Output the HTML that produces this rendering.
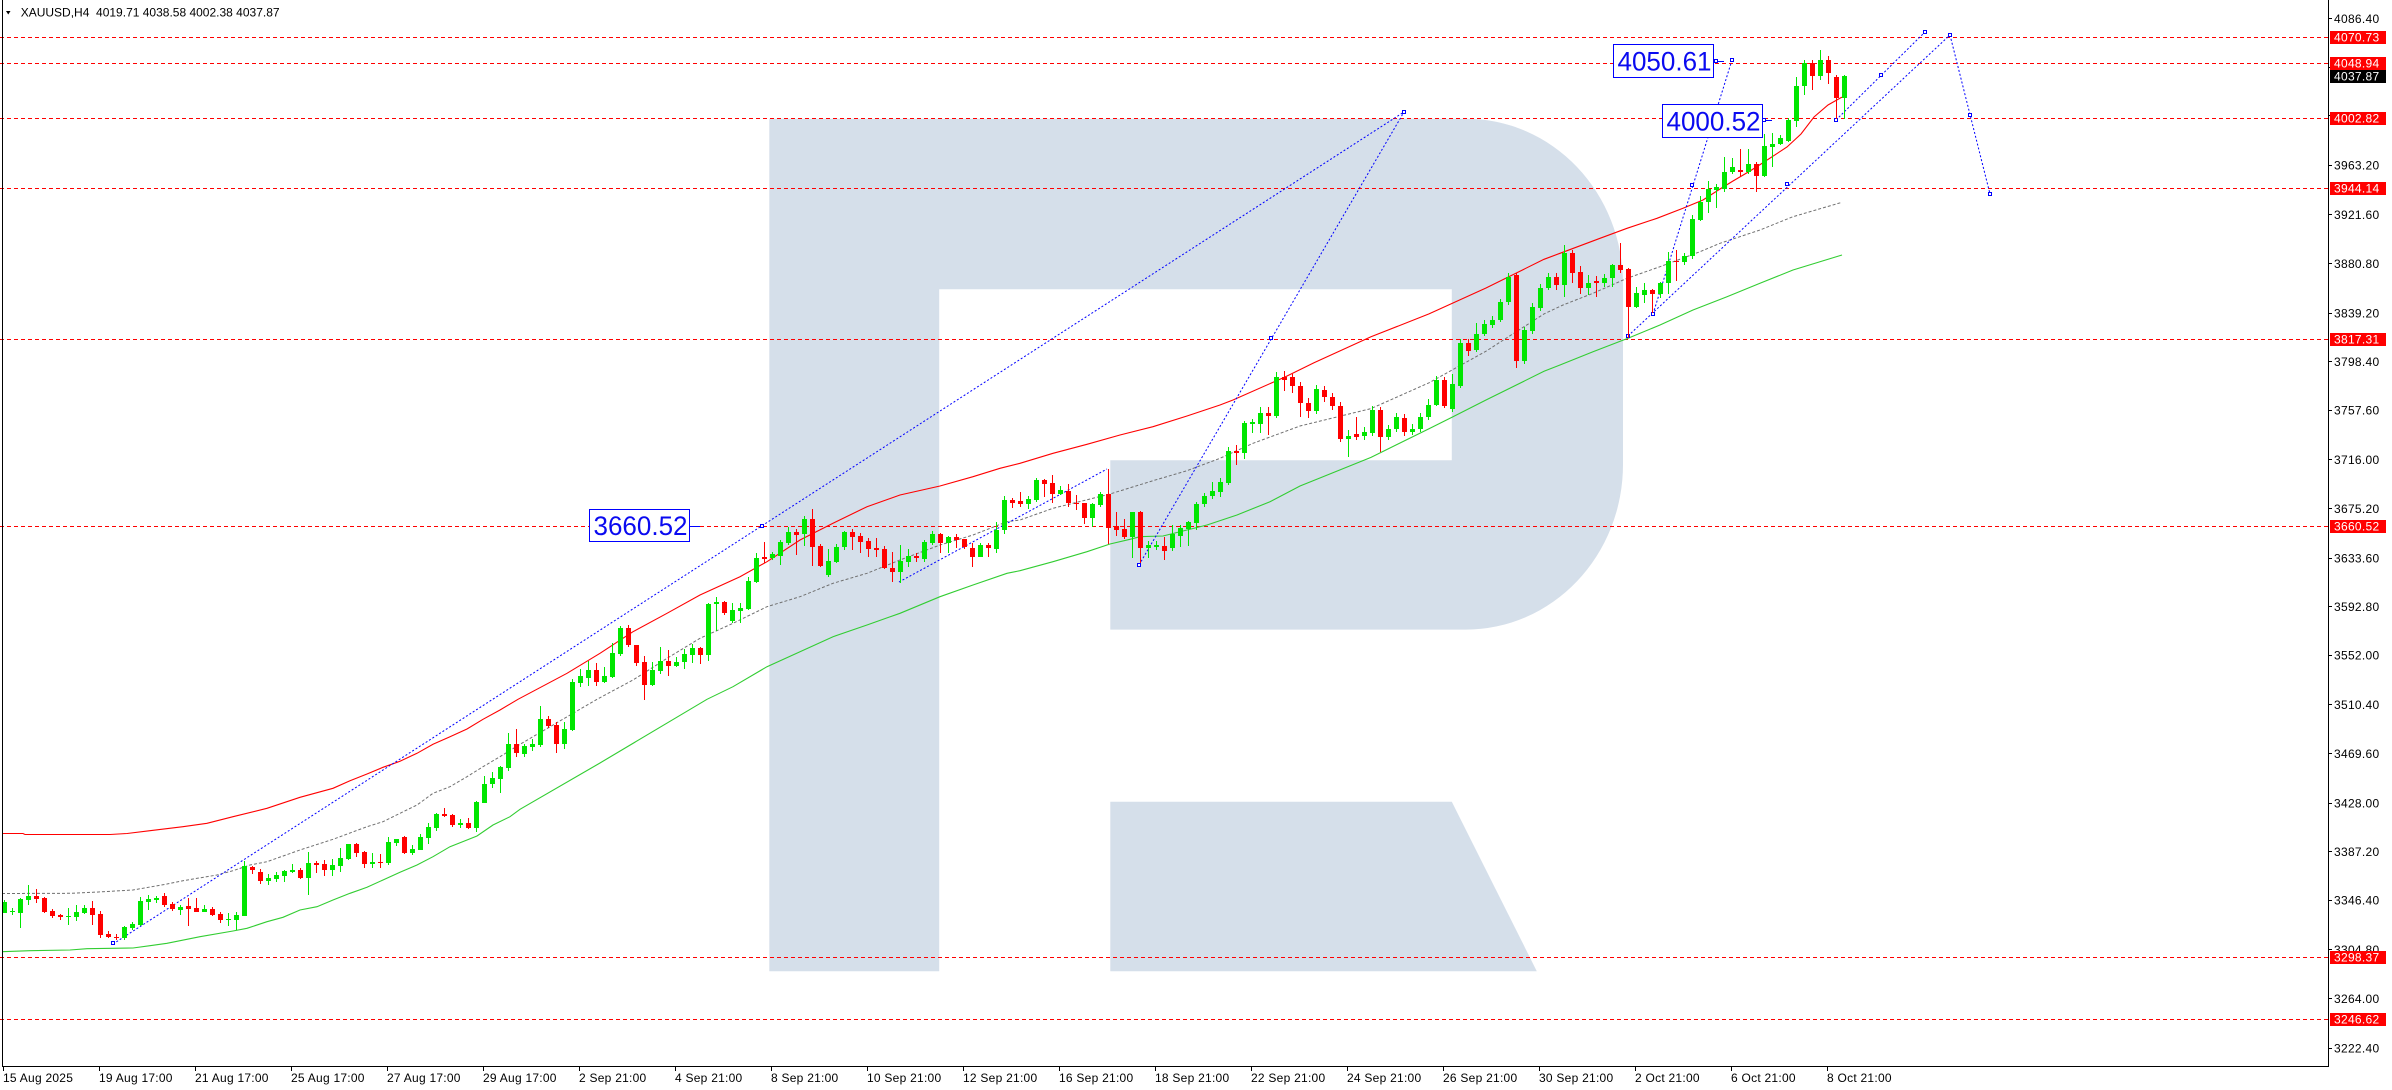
<!DOCTYPE html>
<html><head><meta charset="utf-8"><style>
html,body{margin:0;padding:0;background:#fff;}
svg{display:block;}
text{font-family:"Liberation Sans",Arial,sans-serif;}
</style></head><body>
<svg width="2392" height="1090" viewBox="0 0 2392 1090" xmlns="http://www.w3.org/2000/svg">
<rect x="0" y="0" width="2392" height="1090" fill="#fff"/>
<!-- watermark R -->
<g fill="#d5dfea">
<path d="M769.3,118.7 H1466 A157,165 0 0 1 1623,283.7 V464.6 A157,165 0 0 1 1466,629.6 H1110.3 V460.3 H1451.8 V289.2 H939.2 V971.2 H769.3 Z"/>
<path d="M1110.3,801.8 H1451.8 L1536.8,971.2 H1110.3 Z"/>
</g>
<!-- horizontal red dashed levels -->
<g stroke="#ff0000" stroke-width="1" stroke-dasharray="4 3" shape-rendering="crispEdges">
<line x1="0" y1="37.5" x2="2328" y2="37.5"/>
<line x1="0" y1="63.5" x2="2328" y2="63.5"/>
<line x1="0" y1="118.5" x2="2328" y2="118.5"/>
<line x1="0" y1="188.5" x2="2328" y2="188.5"/>
<line x1="0" y1="339.5" x2="2328" y2="339.5"/>
<line x1="0" y1="526.5" x2="2328" y2="526.5"/>
<line x1="0" y1="957.5" x2="2328" y2="957.5"/>
<line x1="0" y1="1019.5" x2="2328" y2="1019.5"/>
</g>
<!-- moving averages -->
<polyline fill="none" stroke="#ff0000" stroke-width="1.1" points="2,833.5 23,833.5 25,834.5 110,834.5 127,833.5 150,830.7 183,826.7 207,823.3 233,816.7 267,808.3 300,797.3 333,788.3 350,780.7 367,774 383,767.3 400,761.3 417,753.3 433,744.3 450,736.7 467,729 483,719.3 500,710 518,699.3 567,673.3 600,653.3 633,631.7 667,613.3 700,595 740,576.7 767,561.7 800,540 833,523.3 867,506.7 900,495 940,486 973,476.7 1000,468.3 1020,463.3 1053,453.3 1087,444.3 1120,435 1153,426.7 1187,416 1220,405 1233,400 1285,377 1314,362.7 1371,336.8 1429,313.9 1486,288 1544,259.3 1560,253.3 1600,238.3 1627,228.3 1657,218.3 1683,208.3 1703,200 1720,189 1733,181 1750,171 1761,164 1787,147 1801,134 1814,117 1828,105 1841,97.6 1844,96.5"/>
<polyline fill="none" stroke="#707070" stroke-width="1" stroke-dasharray="3 2" points="2,893.5 70,893.3 93,892.3 133,890 167,884 183,880.7 217,875 233,870.7 250,865 267,861.7 300,850 333,839.3 367,826.7 383,821.7 400,813.3 417,805 433,793.3 450,786.7 467,776.7 483,766.7 500,756.7 520,744.3 597,699.3 633,680 667,658.3 700,638.3 733,623.3 767,606.7 800,596.7 833,583.3 867,573.3 900,560 940,545 973,535 1007,521.7 1020,520 1053,508.3 1110,494 1153,480.7 1187,470.7 1220,458.3 1253,443.3 1300,426 1371,408.6 1429,382.8 1486,351.2 1544,313.9 1563,305 1593,293.3 1627,278.3 1660,266.7 1700,251.7 1720,243.3 1760,230 1793,216.7 1842,202.3"/>
<polyline fill="none" stroke="#32cd32" stroke-width="1.1" points="2,951.7 30,950.7 70,950 87,948.7 133,948 150,945.7 167,943.3 200,936.7 233,931 247,928.3 267,921.7 283,917.3 300,910 317,906.7 333,900 350,893.3 367,887.3 383,880 400,872.3 417,865 433,856.7 450,846.7 467,840 477,836 493,825 510,816.7 520,809.3 600,763 707,699.3 733,686.7 767,666.7 800,651.7 833,636.7 867,625 900,613.3 940,596.7 973,585 1007,573.3 1020,570.7 1053,561.7 1087,551.7 1110,544 1130,539.3 1140,536.7 1163,536 1187,530 1207,525 1237,515 1270,501.7 1300,486 1314,480.4 1371,457.4 1429,428.7 1452,417.2 1486,400 1544,371.3 1560,365 1593,351.7 1628,338.3 1660,325 1693,310 1727,296.7 1760,283.3 1793,270 1842,255"/>
<!-- blue trend lines -->
<g stroke="#0000ff" stroke-width="1" stroke-dasharray="2 2" fill="none">
<line x1="113" y1="944" x2="1404" y2="112"/>
<line x1="1139" y1="565" x2="1404" y2="112"/>
<line x1="899" y1="582" x2="1107" y2="469"/>
<line x1="1628" y1="336" x2="1950" y2="35"/>
<line x1="1836" y1="120" x2="1925" y2="32"/>
<line x1="1950" y1="35" x2="1990" y2="194"/>
<line x1="1653" y1="314" x2="1732" y2="60"/>
</g>
<g stroke="#0000ff" stroke-width="1" fill="#fff">
<rect x="111.5" y="941.5" width="3" height="3"/>
<rect x="1402.5" y="110.5" width="3" height="3"/>
<rect x="1137.5" y="563.5" width="3" height="3"/>
<rect x="1269.5" y="336.5" width="3" height="3"/>
<rect x="1626.5" y="334.5" width="3" height="3"/>
<rect x="1785.5" y="182.5" width="3" height="3"/>
<rect x="1948.5" y="33.5" width="3" height="3"/>
<rect x="1834.5" y="118.5" width="3" height="3"/>
<rect x="1879.5" y="73.5" width="3" height="3"/>
<rect x="1923.5" y="30.5" width="3" height="3"/>
<rect x="1968.5" y="113.5" width="3" height="3"/>
<rect x="1988.5" y="192.5" width="3" height="3"/>
<rect x="1651.5" y="312.5" width="3" height="3"/>
<rect x="1690.5" y="183.5" width="3" height="3"/>
<rect x="1730.5" y="58.5" width="3" height="3"/>
<rect x="760.5" y="524.5" width="3" height="3"/>
</g>
<!-- candles -->
<g shape-rendering="crispEdges">
<path fill="none" stroke="#00e600" stroke-width="1" d="M4.5 900V913M12.5 908V915M20.5 898V928M28.5 885V905M68.5 908V925M76.5 905V921M84.5 905V914M124.5 926V940M132.5 922V930M140.5 897V926M148.5 895V910M156.5 896V903M180.5 905V915M204.5 905V912M228.5 913V926M236.5 912V930M244.5 861V916M268.5 874V885M276.5 872V882M284.5 870V882M292.5 864V873M308.5 852V895M332.5 859V876M340.5 848V872M348.5 844V860M372.5 853V868M388.5 837V865M396.5 839V846M412.5 845V855M420.5 834V850M428.5 823V844M436.5 813V831M460.5 819V828M476.5 801V832M484.5 776V803M492.5 772V788M500.5 766V793M508.5 733V771M524.5 744V757M532.5 739V751M540.5 706V747M564.5 722V749M572.5 679V731M580.5 669V687M588.5 661V686M604.5 667V683M612.5 643V678M620.5 626V656M652.5 662V686M660.5 647V674M676.5 657V667M684.5 649V669M692.5 644V663M708.5 603V661M716.5 597V631M732.5 603V623M740.5 603V623M748.5 577V610M756.5 553V583M772.5 552V560M780.5 540V565M788.5 527V545M804.5 516V546M828.5 549V577M836.5 544V563M844.5 531V550M900.5 545V583M908.5 549V567M924.5 540V562M932.5 531V545M948.5 536V553M980.5 543V557M996.5 522V553M1004.5 496V534M1028.5 496V509M1036.5 478V502M1060.5 486V495M1092.5 503V527M1100.5 492V507M1132.5 512V558M1148.5 541V558M1156.5 541V550M1172.5 525V551M1180.5 525V547M1188.5 521V546M1196.5 502V530M1204.5 493V507M1212.5 482V499M1220.5 478V497M1228.5 447V485M1244.5 421V459M1252.5 419V433M1260.5 407V433M1276.5 372V418M1316.5 385V414M1348.5 430V457M1364.5 427V440M1372.5 406V436M1388.5 425V440M1396.5 413V432M1412.5 424V435M1420.5 413V432M1428.5 399V420M1436.5 376V406M1452.5 374V412M1460.5 339V388M1476.5 323V352M1484.5 320V336M1492.5 316V328M1500.5 299V322M1508.5 273V305M1524.5 327V364M1532.5 303V334M1540.5 284V311M1548.5 273V290M1564.5 245V297M1588.5 275V295M1604.5 274V287M1612.5 264V287M1636.5 287V308M1644.5 283V303M1660.5 282V298M1668.5 252V294M1684.5 253V265M1692.5 215V259M1700.5 196V221M1708.5 181V213M1716.5 184V208M1724.5 157V192M1732.5 158V174M1748.5 149V174M1764.5 134V177M1772.5 133V167M1780.5 135V145M1788.5 118V142M1796.5 77V127M1804.5 60V95M1820.5 50V80M1844.5 75V119"/>
<path fill="#00e600" d="M2 902h5V913h-5zM10 911h5V912h-5zM18 899h5V913h-5zM26 896h5V900h-5zM66 916h5V917h-5zM74 912h5V917h-5zM82 908h5V913h-5zM122 927h5V938h-5zM130 924h5V928h-5zM138 901h5V925h-5zM146 899h5V902h-5zM154 898h5V900h-5zM178 907h5V910h-5zM202 909h5V912h-5zM226 919h5V920h-5zM234 915h5V920h-5zM242 866h5V916h-5zM266 878h5V881h-5zM274 875h5V879h-5zM282 871h5V876h-5zM290 870h5V872h-5zM306 863h5V878h-5zM330 865h5V870h-5zM338 858h5V866h-5zM346 844h5V859h-5zM370 862h5V864h-5zM386 842h5V863h-5zM394 839h5V843h-5zM410 849h5V853h-5zM418 837h5V850h-5zM426 827h5V838h-5zM434 814h5V828h-5zM458 823h5V825h-5zM474 802h5V828h-5zM482 784h5V803h-5zM490 778h5V784h-5zM498 767h5V779h-5zM506 744h5V768h-5zM522 746h5V754h-5zM530 744h5V747h-5zM538 719h5V745h-5zM562 729h5V744h-5zM570 682h5V730h-5zM578 676h5V683h-5zM586 670h5V678h-5zM602 676h5V682h-5zM610 653h5V677h-5zM618 628h5V654h-5zM650 670h5V685h-5zM658 661h5V671h-5zM674 662h5V666h-5zM682 654h5V662h-5zM690 648h5V655h-5zM706 604h5V655h-5zM714 602h5V604h-5zM730 610h5V621h-5zM738 608h5V611h-5zM746 581h5V609h-5zM754 558h5V582h-5zM770 554h5V558h-5zM778 542h5V556h-5zM786 532h5V543h-5zM802 519h5V534h-5zM826 561h5V575h-5zM834 547h5V562h-5zM842 532h5V547h-5zM898 561h5V572h-5zM906 556h5V562h-5zM922 542h5V559h-5zM930 534h5V543h-5zM946 537h5V543h-5zM978 545h5V557h-5zM994 530h5V549h-5zM1002 500h5V530h-5zM1026 499h5V504h-5zM1034 480h5V500h-5zM1058 490h5V494h-5zM1090 504h5V518h-5zM1098 494h5V505h-5zM1130 512h5V537h-5zM1146 545h5V548h-5zM1154 545h5V547h-5zM1170 534h5V548h-5zM1178 528h5V536h-5zM1186 522h5V529h-5zM1194 504h5V523h-5zM1202 496h5V504h-5zM1210 491h5V496h-5zM1218 482h5V492h-5zM1226 451h5V483h-5zM1242 423h5V453h-5zM1250 422h5V424h-5zM1258 413h5V424h-5zM1274 377h5V416h-5zM1314 389h5V411h-5zM1346 436h5V439h-5zM1362 432h5V436h-5zM1370 410h5V433h-5zM1386 429h5V437h-5zM1394 417h5V429h-5zM1410 429h5V432h-5zM1418 417h5V429h-5zM1426 405h5V417h-5zM1434 380h5V405h-5zM1450 384h5V409h-5zM1458 343h5V386h-5zM1474 334h5V350h-5zM1482 324h5V334h-5zM1490 320h5V325h-5zM1498 302h5V320h-5zM1506 277h5V302h-5zM1522 330h5V361h-5zM1530 307h5V331h-5zM1538 288h5V308h-5zM1546 277h5V288h-5zM1562 253h5V285h-5zM1586 283h5V288h-5zM1602 278h5V283h-5zM1610 265h5V278h-5zM1634 293h5V307h-5zM1642 290h5V295h-5zM1658 283h5V294h-5zM1666 261h5V283h-5zM1682 256h5V262h-5zM1690 219h5V256h-5zM1698 202h5V220h-5zM1706 189h5V202h-5zM1714 187h5V190h-5zM1722 172h5V189h-5zM1730 167h5V172h-5zM1746 164h5V172h-5zM1762 146h5V176h-5zM1770 144h5V147h-5zM1778 138h5V144h-5zM1786 120h5V141h-5zM1794 86h5V121h-5zM1802 63h5V86h-5zM1818 60h5V76h-5zM1842 76h5V98h-5z"/>
<path fill="none" stroke="#ff0000" stroke-width="1" d="M36.5 889V903M44.5 897V913M52.5 909V918M60.5 914V920M92.5 901V925M100.5 911V938M108.5 931V938M116.5 934V940M164.5 893V907M172.5 902V911M188.5 898V926M196.5 898V912M212.5 907V916M220.5 912V923M252.5 866V874M260.5 869V884M300.5 868V879M316.5 861V873M324.5 860V876M356.5 843V857M364.5 851V868M380.5 854V868M404.5 836V854M444.5 808V817M452.5 814V827M468.5 818V829M516.5 729V757M548.5 716V728M556.5 722V753M596.5 663V686M628.5 625V647M636.5 645V666M644.5 656V700M668.5 650V676M700.5 647V664M724.5 601V615M764.5 542V563M796.5 529V555M812.5 509V566M820.5 544V567M852.5 529V550M860.5 533V553M868.5 538V557M876.5 538V557M884.5 546V569M892.5 552V582M916.5 553V562M940.5 533V553M956.5 534V548M964.5 539V549M972.5 543V567M988.5 543V557M1012.5 498V508M1020.5 492V507M1044.5 479V497M1052.5 475V503M1068.5 484V507M1076.5 495V510M1084.5 503V524M1108.5 469V544M1116.5 512V536M1124.5 519V539M1140.5 511V563M1164.5 537V560M1236.5 445V465M1268.5 407V435M1284.5 371V391M1292.5 374V393M1300.5 382V417M1308.5 398V418M1324.5 386V402M1332.5 393V410M1340.5 402V442M1356.5 417V440M1380.5 407V452M1404.5 414V436M1444.5 377V408M1468.5 339V356M1516.5 273V368M1556.5 273V290M1572.5 250V283M1580.5 266V294M1596.5 276V297M1620.5 243V273M1628.5 268V338M1652.5 289V313M1676.5 250V281M1740.5 149V177M1756.5 162V192M1812.5 60V90M1828.5 56V84M1836.5 75V119"/>
<path fill="#ff0000" d="M34 896h5V899h-5zM42 898h5V912h-5zM50 911h5V916h-5zM58 915h5V917h-5zM90 908h5V915h-5zM98 914h5V935h-5zM106 934h5V937h-5zM114 937h5V938h-5zM162 896h5V905h-5zM170 904h5V909h-5zM186 906h5V909h-5zM194 908h5V912h-5zM210 909h5V915h-5zM218 914h5V920h-5zM250 867h5V870h-5zM258 872h5V881h-5zM298 870h5V878h-5zM314 863h5V865h-5zM322 864h5V870h-5zM354 844h5V853h-5zM362 852h5V864h-5zM378 862h5V863h-5zM402 837h5V853h-5zM442 814h5V816h-5zM450 815h5V825h-5zM466 823h5V828h-5zM514 744h5V753h-5zM546 719h5V726h-5zM554 725h5V744h-5zM594 670h5V682h-5zM626 628h5V645h-5zM634 645h5V663h-5zM642 662h5V685h-5zM666 661h5V666h-5zM698 648h5V655h-5zM722 602h5V613h-5zM762 557h5V559h-5zM794 532h5V535h-5zM810 519h5V547h-5zM818 546h5V566h-5zM850 532h5V537h-5zM858 536h5V542h-5zM866 541h5V549h-5zM874 548h5V550h-5zM882 549h5V568h-5zM890 568h5V572h-5zM914 556h5V558h-5zM938 534h5V543h-5zM954 537h5V540h-5zM962 539h5V547h-5zM970 548h5V557h-5zM986 545h5V548h-5zM1010 500h5V503h-5zM1018 501h5V504h-5zM1042 480h5V484h-5zM1050 483h5V494h-5zM1066 491h5V503h-5zM1074 503h5V504h-5zM1082 503h5V518h-5zM1106 494h5V528h-5zM1114 526h5V530h-5zM1122 529h5V537h-5zM1138 512h5V548h-5zM1162 546h5V551h-5zM1234 451h5V453h-5zM1266 413h5V416h-5zM1282 377h5V380h-5zM1290 377h5V386h-5zM1298 386h5V403h-5zM1306 403h5V411h-5zM1322 390h5V397h-5zM1330 397h5V406h-5zM1338 406h5V439h-5zM1354 434h5V437h-5zM1378 410h5V437h-5zM1402 418h5V432h-5zM1442 380h5V406h-5zM1466 343h5V351h-5zM1514 275h5V361h-5zM1554 277h5V285h-5zM1570 253h5V273h-5zM1578 272h5V288h-5zM1594 281h5V283h-5zM1618 265h5V270h-5zM1626 269h5V307h-5zM1650 290h5V294h-5zM1674 261h5V262h-5zM1738 170h5V172h-5zM1754 164h5V176h-5zM1810 63h5V76h-5zM1826 60h5V73h-5zM1834 77h5V98h-5z"/>
</g>
<!-- price label boxes on chart -->
<g stroke="#0000ff" stroke-width="1" shape-rendering="crispEdges">
<line x1="689" y1="526.5" x2="700" y2="526.5"/>
<line x1="1714" y1="61.5" x2="1724" y2="61.5"/>
<line x1="1762" y1="120.5" x2="1772" y2="120.5"/>
<rect x="589.5" y="509.5" width="100" height="32" fill="#fff"/>
<rect x="1613.5" y="44.5" width="100" height="33" fill="#fff"/>
<rect x="1662.5" y="104.5" width="100" height="33" fill="#fff"/>
<rect x="1714.5" y="59.5" width="3" height="3" fill="#fff"/>
<rect x="1762.5" y="118.5" width="3" height="3" fill="#fff"/>
</g>
<g fill="#0a0af0" font-size="26.5">
<text x="593.5" y="535" textLength="94" lengthAdjust="spacingAndGlyphs">3660.52</text>
<text x="1617.5" y="70.5" textLength="94" lengthAdjust="spacingAndGlyphs">4050.61</text>
<text x="1666.5" y="130.5" textLength="94" lengthAdjust="spacingAndGlyphs">4000.52</text>
</g>
<!-- frame -->
<g stroke="#000" stroke-width="1" shape-rendering="crispEdges" fill="none">
<line x1="2.5" y1="0" x2="2.5" y2="1066.5"/>
<line x1="2" y1="1066.5" x2="2329" y2="1066.5"/>
<line x1="2328.5" y1="0" x2="2328.5" y2="1067"/>
</g>
<!-- title -->
<polygon points="6,11 10.5,11 8.25,14.5" fill="#000"/>
<text x="20.7" y="16.5" font-size="12" fill="#000" style="white-space:pre">XAUUSD,H4  4019.71 4038.58 4002.38 4037.87</text>
<!-- right axis ticks -->
<g stroke="#000" stroke-width="1" shape-rendering="crispEdges">
<line x1="2328" y1="18.5" x2="2332" y2="18.5"/>
<line x1="2328" y1="67.5" x2="2332" y2="67.5"/>
<line x1="2328" y1="115.5" x2="2332" y2="115.5"/>
<line x1="2328" y1="165.5" x2="2332" y2="165.5"/>
<line x1="2328" y1="214.5" x2="2332" y2="214.5"/>
<line x1="2328" y1="263.5" x2="2332" y2="263.5"/>
<line x1="2328" y1="313.5" x2="2332" y2="313.5"/>
<line x1="2328" y1="361.5" x2="2332" y2="361.5"/>
<line x1="2328" y1="410.5" x2="2332" y2="410.5"/>
<line x1="2328" y1="459.5" x2="2332" y2="459.5"/>
<line x1="2328" y1="508.5" x2="2332" y2="508.5"/>
<line x1="2328" y1="558.5" x2="2332" y2="558.5"/>
<line x1="2328" y1="606.5" x2="2332" y2="606.5"/>
<line x1="2328" y1="655.5" x2="2332" y2="655.5"/>
<line x1="2328" y1="704.5" x2="2332" y2="704.5"/>
<line x1="2328" y1="753.5" x2="2332" y2="753.5"/>
<line x1="2328" y1="803.5" x2="2332" y2="803.5"/>
<line x1="2328" y1="851.5" x2="2332" y2="851.5"/>
<line x1="2328" y1="900.5" x2="2332" y2="900.5"/>
<line x1="2328" y1="949.5" x2="2332" y2="949.5"/>
<line x1="2328" y1="998.5" x2="2332" y2="998.5"/>
<line x1="2328" y1="1048.5" x2="2332" y2="1048.5"/>
</g>
<g font-size="12" fill="#000" letter-spacing="0.3">
<text x="2334" y="22.8">4086.40</text>
<text x="2334" y="169.6">3963.20</text>
<text x="2334" y="219.2">3921.60</text>
<text x="2334" y="267.8">3880.80</text>
<text x="2334" y="317.4">3839.20</text>
<text x="2334" y="366">3798.40</text>
<text x="2334" y="414.6">3757.60</text>
<text x="2334" y="464.2">3716.00</text>
<text x="2334" y="512.8">3675.20</text>
<text x="2334" y="562.4">3633.60</text>
<text x="2334" y="611">3592.80</text>
<text x="2334" y="659.6">3552.00</text>
<text x="2334" y="709.2">3510.40</text>
<text x="2334" y="757.8">3469.60</text>
<text x="2334" y="807.4">3428.00</text>
<text x="2334" y="856">3387.20</text>
<text x="2334" y="904.6">3346.40</text>
<text x="2334" y="954.2">3304.80</text>
<text x="2334" y="1002.8">3264.00</text>
<text x="2334" y="1052.4">3222.40</text>
</g>
<!-- right axis colored labels -->
<g shape-rendering="crispEdges">
<rect x="2330" y="31" width="56" height="13" fill="#ff0000"/>
<rect x="2330" y="57" width="56" height="13" fill="#ff0000"/>
<rect x="2330" y="70" width="56" height="13" fill="#000"/>
<rect x="2330" y="112" width="56" height="13" fill="#ff0000"/>
<rect x="2330" y="182" width="56" height="13" fill="#ff0000"/>
<rect x="2330" y="333" width="56" height="13" fill="#ff0000"/>
<rect x="2330" y="520" width="56" height="13" fill="#ff0000"/>
<rect x="2330" y="951" width="56" height="13" fill="#ff0000"/>
<rect x="2330" y="1013" width="56" height="13" fill="#ff0000"/>
</g>
<g font-size="12" fill="#fff" letter-spacing="0.3">
<text x="2334" y="41.7">4070.73</text>
<text x="2334" y="67.7">4048.94</text>
<text x="2334" y="80.7">4037.87</text>
<text x="2334" y="122.7">4002.82</text>
<text x="2334" y="192.7">3944.14</text>
<text x="2334" y="343.7">3817.31</text>
<text x="2334" y="530.7">3660.52</text>
<text x="2334" y="961.7">3298.37</text>
<text x="2334" y="1023.7">3246.62</text>
</g>
<!-- time axis -->
<g stroke="#000" stroke-width="1" shape-rendering="crispEdges">
<line x1="3.5" y1="1066" x2="3.5" y2="1071"/>
<line x1="99.5" y1="1066" x2="99.5" y2="1071"/>
<line x1="195.5" y1="1066" x2="195.5" y2="1071"/>
<line x1="291.5" y1="1066" x2="291.5" y2="1071"/>
<line x1="387.5" y1="1066" x2="387.5" y2="1071"/>
<line x1="483.5" y1="1066" x2="483.5" y2="1071"/>
<line x1="579.5" y1="1066" x2="579.5" y2="1071"/>
<line x1="675.5" y1="1066" x2="675.5" y2="1071"/>
<line x1="771.5" y1="1066" x2="771.5" y2="1071"/>
<line x1="867.5" y1="1066" x2="867.5" y2="1071"/>
<line x1="963.5" y1="1066" x2="963.5" y2="1071"/>
<line x1="1059.5" y1="1066" x2="1059.5" y2="1071"/>
<line x1="1155.5" y1="1066" x2="1155.5" y2="1071"/>
<line x1="1251.5" y1="1066" x2="1251.5" y2="1071"/>
<line x1="1347.5" y1="1066" x2="1347.5" y2="1071"/>
<line x1="1443.5" y1="1066" x2="1443.5" y2="1071"/>
<line x1="1539.5" y1="1066" x2="1539.5" y2="1071"/>
<line x1="1635.5" y1="1066" x2="1635.5" y2="1071"/>
<line x1="1731.5" y1="1066" x2="1731.5" y2="1071"/>
<line x1="1827.5" y1="1066" x2="1827.5" y2="1071"/>
</g>
<g font-size="12" fill="#000" letter-spacing="0.25">
<text x="3" y="1082">15 Aug 2025</text>
<text x="99" y="1082">19 Aug 17:00</text>
<text x="195" y="1082">21 Aug 17:00</text>
<text x="291" y="1082">25 Aug 17:00</text>
<text x="387" y="1082">27 Aug 17:00</text>
<text x="483" y="1082">29 Aug 17:00</text>
<text x="579" y="1082">2 Sep 21:00</text>
<text x="675" y="1082">4 Sep 21:00</text>
<text x="771" y="1082">8 Sep 21:00</text>
<text x="867" y="1082">10 Sep 21:00</text>
<text x="963" y="1082">12 Sep 21:00</text>
<text x="1059" y="1082">16 Sep 21:00</text>
<text x="1155" y="1082">18 Sep 21:00</text>
<text x="1251" y="1082">22 Sep 21:00</text>
<text x="1347" y="1082">24 Sep 21:00</text>
<text x="1443" y="1082">26 Sep 21:00</text>
<text x="1539" y="1082">30 Sep 21:00</text>
<text x="1635" y="1082">2 Oct 21:00</text>
<text x="1731" y="1082">6 Oct 21:00</text>
<text x="1827" y="1082">8 Oct 21:00</text>
</g>
</svg>
</body></html>
